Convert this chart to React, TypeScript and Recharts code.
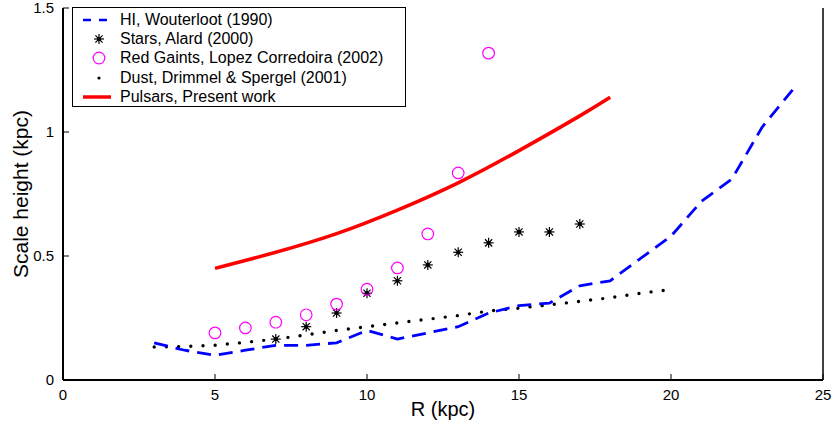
import { ComposedChart, Line, Scatter, XAxis, YAxis, Label } from "recharts";

// HI, Wouterloot (1990)
const hiR = [3, 4, 5, 6, 7, 8, 9, 10, 11, 12, 13, 14, 15, 16, 17, 18, 19, 20, 21, 22, 23, 24];
const hiH = [0.15, 0.12, 0.1, 0.12, 0.14, 0.14, 0.15, 0.2, 0.165, 0.19, 0.215, 0.27, 0.3, 0.31, 0.38, 0.4, 0.49, 0.58, 0.72, 0.81, 1.02, 1.17];

// Stars, Alard (2000)
const starR = [7, 8, 9, 10, 11, 12, 13, 14, 15, 16, 17];
const starH = [0.165, 0.215, 0.27, 0.35, 0.4, 0.464, 0.515, 0.553, 0.597, 0.597, 0.629];

// Red giants, Lopez Corredoira (2002)
const giantR = [5, 6, 7, 8, 9, 10, 11, 12, 13, 14];
const giantH = [0.19, 0.21, 0.233, 0.263, 0.306, 0.366, 0.452, 0.589, 0.835, 1.318];

// Dust, Drimmel & Spergel (2001)
const dustR = [3, 4, 5, 6, 7, 8, 9, 10, 11, 12, 13, 14, 15, 16, 17, 18, 19, 20];
const dustH = [0.133, 0.135, 0.14, 0.152, 0.165, 0.182, 0.2, 0.215, 0.23, 0.245, 0.26, 0.278, 0.29, 0.303, 0.317, 0.332, 0.35, 0.365];

// Pulsars, present work
const psrR = [5, 7, 9, 11, 13, 15, 17, 18];
const psrH = [0.45, 0.515, 0.59, 0.685, 0.795, 0.925, 1.065, 1.14];

const xTicks = [0, 5, 10, 15, 20, 25];
const yTicks = [0, 0.5, 1, 1.5];
const yTickText = ["0", "0.5", "1", "1.5"];

const legendNames = [
  "HI, Wouterloot (1990)",
  "Stars, Alard (2000)",
  "Red Gaints, Lopez Corredoira (2002)",
  "Dust, Drimmel & Spergel (2001)",
  "Pulsars, Present work",
];

const zip = (xs: number[], ys: number[]) => xs.map((x, i) => ({ x, y: ys[i] }));

const FONT = "'Liberation Sans', Arial, sans-serif";
const MARGIN = 9;
const TICK = 6;

function BottomTick(props: any) {
  const { x, y, payload } = props;
  const axisY = y - MARGIN;
  return (
    <g>
      <line x1={x} y1={axisY} x2={x} y2={axisY - TICK} stroke="#000" strokeWidth={1} />
      <text x={x} y={y + 11} textAnchor="middle" fontFamily={FONT} fontSize={15} fill="#000">
        {payload.value}
      </text>
    </g>
  );
}

function TopTick(props: any) {
  const { x, y } = props;
  const axisY = y + MARGIN;
  return <line x1={x} y1={axisY} x2={x} y2={axisY + TICK} stroke="#000" strokeWidth={1} />;
}

function LeftTick(props: any) {
  const { x, y, payload } = props;
  const axisX = x + MARGIN;
  const idx = yTicks.indexOf(payload.value);
  return (
    <g>
      <line x1={axisX} y1={y} x2={axisX + TICK} y2={y} stroke="#000" strokeWidth={1} />
      <text x={x} y={y + 5} textAnchor="end" fontFamily={FONT} fontSize={15} fill="#000">
        {idx >= 0 ? yTickText[idx] : payload.value}
      </text>
    </g>
  );
}

function RightTick(props: any) {
  const { x, y } = props;
  const axisX = x - MARGIN;
  return <line x1={axisX} y1={y} x2={axisX - TICK} y2={y} stroke="#000" strokeWidth={1} />;
}

function StarShape(props: any) {
  const { cx, cy } = props;
  const r = 5;
  const d = r * 0.72;
  return (
    <g stroke="#000" strokeWidth={1.2}>
      <line x1={cx - r} y1={cy} x2={cx + r} y2={cy} />
      <line x1={cx} y1={cy - r} x2={cx} y2={cy + r} />
      <line x1={cx - d} y1={cy - d} x2={cx + d} y2={cy + d} />
      <line x1={cx - d} y1={cy + d} x2={cx + d} y2={cy - d} />
      <circle cx={cx} cy={cy} r={1.5} fill="#000" />
    </g>
  );
}

function CircleShape(props: any) {
  const { cx, cy } = props;
  return <circle cx={cx} cy={cy} r={5.8} fill="none" stroke="#ff00ff" strokeWidth={1.2} />;
}

function LegendIcon({ i }: { i: number }) {
  if (i === 0)
    return (
      <svg width={40} height={14}>
        <line x1={10} y1={7} x2={38} y2={7} stroke="#0000ff" strokeWidth={2.5} strokeDasharray="8 8" />
      </svg>
    );
  if (i === 1)
    return (
      <svg width={40} height={14}>
        <StarShape cx={26} cy={7} />
      </svg>
    );
  if (i === 2)
    return (
      <svg width={40} height={14}>
        <CircleShape cx={26} cy={7} />
      </svg>
    );
  if (i === 3)
    return (
      <svg width={40} height={14}>
        <circle cx={26} cy={7} r={1.6} fill="#000" />
      </svg>
    );
  return (
    <svg width={40} height={14}>
      <line x1={10} y1={7} x2={38} y2={7} stroke="#ff0000" strokeWidth={3.5} />
    </svg>
  );
}

function ScaleLegend() {
  return (
    <div
      style={{
        position: "absolute",
        left: 72,
        top: 7,
        width: 334,
        height: 100,
        border: "1px solid #000",
        background: "#fff",
        fontFamily: FONT,
        fontSize: 16,
        color: "#000",
        paddingTop: 2,
        boxSizing: "border-box",
      }}
    >
      {legendNames.map((name, i) => (
        <div key={name} style={{ display: "flex", alignItems: "center", height: 19.3 }}>
          <LegendIcon i={i} />
          <span style={{ marginLeft: 7, whiteSpace: "nowrap" }}>{name}</span>
        </div>
      ))}
    </div>
  );
}

export default function App() {
  return (
    <div style={{ position: "absolute", left: 0, top: 0, width: 833, height: 434, background: "#fff" }}>
      <ComposedChart width={833} height={434} margin={{ top: 8, right: 0, bottom: 0, left: 0 }}>
        <XAxis
          dataKey="x"
          type="number"
          domain={[0, 25]}
          ticks={xTicks}
          interval={0}
          height={54}
          tickLine={false}
          tickSize={0}
          tickMargin={MARGIN}
          tick={<BottomTick />}
          axisLine={{ stroke: "#000", strokeWidth: 2 }}
        >
          <Label
            content={(p: any) => (
              <text
                x={p.viewBox.x + p.viewBox.width / 2}
                y={p.viewBox.y + 36}
                textAnchor="middle"
                fontFamily={FONT}
                fontSize={20}
                fill="#000"
              >
                R (kpc)
              </text>
            )}
          />
        </XAxis>
        <XAxis
          xAxisId="top"
          dataKey="x"
          type="number"
          orientation="top"
          domain={[0, 25]}
          ticks={xTicks}
          interval={0}
          height={0}
          tickLine={false}
          tickSize={0}
          tickMargin={MARGIN}
          tick={<TopTick />}
          axisLine={{ stroke: "#000", strokeWidth: 1.5 }}
        />
        <YAxis
          type="number"
          domain={[0, 1.5]}
          ticks={yTicks}
          interval={0}
          width={63}
          tickLine={false}
          tickSize={0}
          tickMargin={MARGIN}
          tick={<LeftTick />}
          axisLine={{ stroke: "#000", strokeWidth: 2 }}
        >
          <Label
            content={(p: any) => {
              const cx = 20;
              const cy = p.viewBox.y + p.viewBox.height / 2;
              return (
                <text
                  x={cx}
                  y={cy}
                  transform={`rotate(-90, ${cx}, ${cy})`}
                  textAnchor="middle"
                  dominantBaseline="central"
                  fontFamily={FONT}
                  fontSize={21}
                  fill="#000"
                >
                  Scale height (kpc)
                </text>
              );
            }}
          />
        </YAxis>
        <YAxis
          yAxisId="right"
          type="number"
          orientation="right"
          domain={[0, 1.5]}
          ticks={yTicks}
          interval={0}
          width={10}
          tickLine={false}
          tickSize={0}
          tickMargin={MARGIN}
          tick={<RightTick />}
          axisLine={{ stroke: "#000", strokeWidth: 1.5 }}
        />
        <Line
          data={zip(dustR, dustH)}
          dataKey="y"
          type="linear"
          stroke="#000"
          strokeWidth={3.4}
          strokeLinecap="round"
          strokeDasharray="0 12.2"
          dot={false}
          isAnimationActive={false}
        />
        <Line
          data={zip(hiR, hiH)}
          dataKey="y"
          type="linear"
          stroke="#0000ff"
          strokeWidth={2.8}
          strokeDasharray="14 8"
          dot={false}
          isAnimationActive={false}
        />
        <Line
          data={zip(psrR, psrH)}
          dataKey="y"
          type="natural"
          stroke="#ff0000"
          strokeWidth={3.5}
          dot={false}
          isAnimationActive={false}
        />
        <Scatter data={zip(starR, starH)} dataKey="y" shape={<StarShape />} isAnimationActive={false} />
        <Scatter data={zip(giantR, giantH)} dataKey="y" shape={<CircleShape />} isAnimationActive={false} />
      </ComposedChart>
      <ScaleLegend />
    </div>
  );
}
